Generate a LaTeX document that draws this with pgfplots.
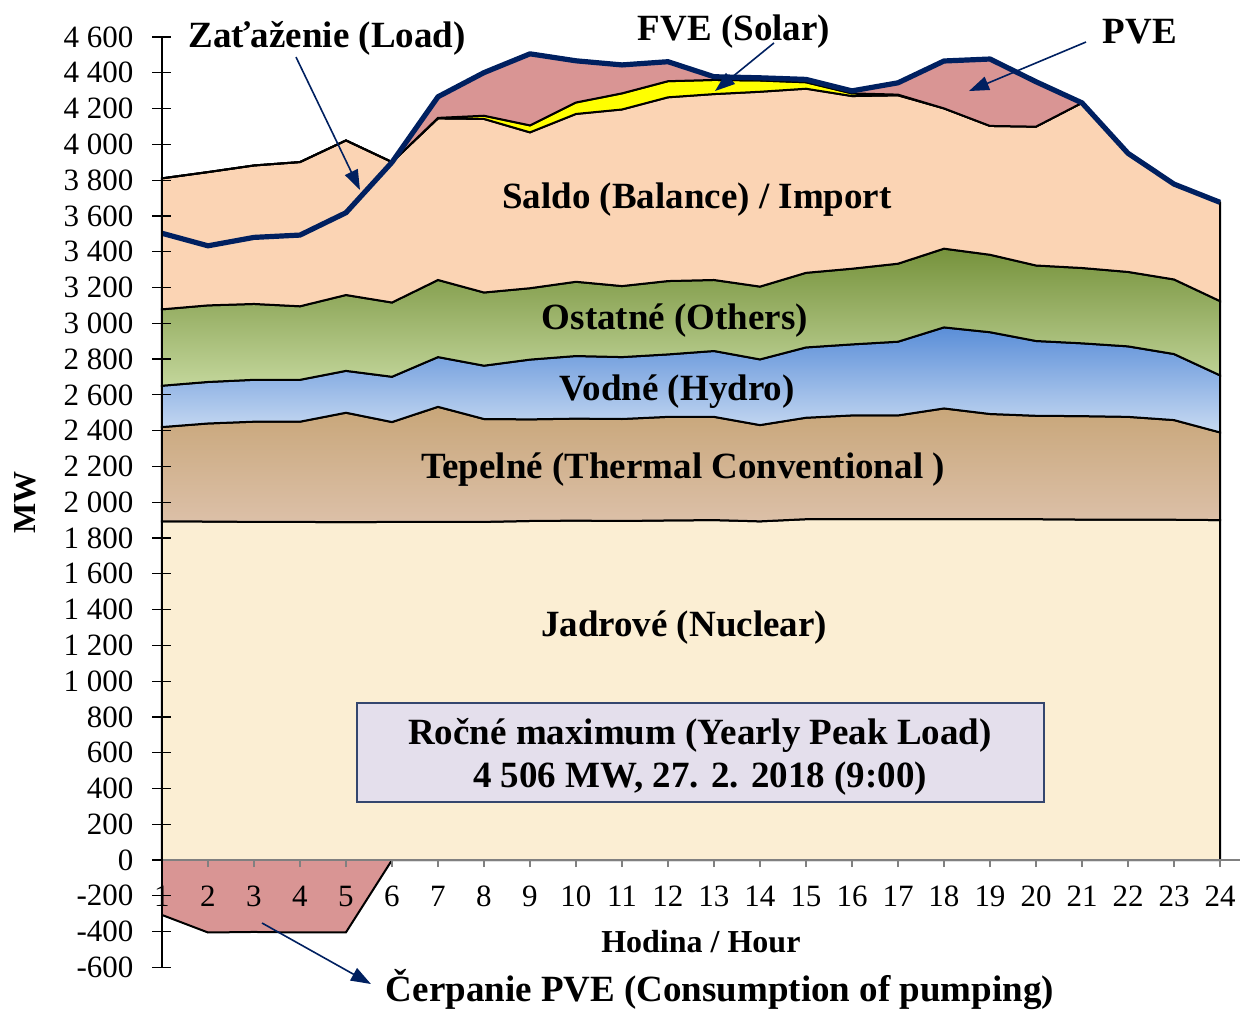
\documentclass[border=0pt]{standalone}
\usepackage{fontspec}
\setmainfont{Liberation Serif}
\usepackage{pgfplots}
\pgfplotsset{compat=1.18}
\usepackage{pgfplotstable}
\usepgfplotslibrary{fillbetween}
\usetikzlibrary{arrows.meta}

\definecolor{nucC}{HTML}{FBEED3}
\definecolor{thermT}{HTML}{C8A679}
\definecolor{thermB}{HTML}{DCC0A8}
\definecolor{hydroT}{HTML}{5A8ED8}
\definecolor{hydroB}{HTML}{C8DAF2}
\definecolor{othT}{HTML}{76923C}
\definecolor{othB}{HTML}{C3D69B}
\definecolor{saldoC}{HTML}{FBD4B4}
\definecolor{solC}{HTML}{FFFF00}
\definecolor{pveC}{HTML}{D99594}
\definecolor{loadC}{HTML}{002060}
\definecolor{boxF}{HTML}{E4DFEC}
\definecolor{boxD}{HTML}{34466E}

\pgfplotstableread{
h nuc therm hydro oth saldo sol load pvetop
1 1893 2420 2651 3078 3810 3810 3503 3810
2 1892 2440 2672 3100 3845 3845 3433 3845
3 1890 2450 2684 3108 3882 3882 3480 3882
4 1890 2450 2684 3095 3901 3901 3493 3901
5 1888 2500 2734 3158 4022 4022 3618 4022
6 1890 2448 2701 3116 3901 3901 3900 3901
7 1890 2533 2811 3242 4145 4148 4266 4266
8 1890 2465 2763 3172 4142 4160 4401 4401
9 1895 2463 2797 3196 4067 4106 4506 4506
10 1897 2467 2817 3232 4170 4234 4467 4467
11 1895 2465 2811 3208 4195 4285 4444 4444
12 1898 2477 2826 3236 4263 4353 4462 4462
13 1900 2477 2845 3242 4281 4360 4378 4378
14 1893 2431 2798 3205 4294 4357 4372 4372
15 1905 2472 2865 3282 4311 4347 4363 4363
16 1905 2485 2882 3305 4270 4285 4299 4299
17 1905 2485 2897 3333 4274 4278 4344 4344
18 1905 2524 2977 3417 4201 4201 4466 4466
19 1905 2493 2950 3383 4103 4103 4477 4477
20 1905 2483 2901 3323 4099 4099 4350 4350
21 1903 2481 2888 3309 4232 4232 4232 4232
22 1902 2477 2871 3287 3950 3950 3950 3950
23 1902 2459 2828 3245 3778 3778 3778 3778
24 1900 2390 2709 3124 3676 3676 3676 3676
}\gen

\pgfplotstableread{
h pump
1 -307
2 -405
3 -402
4 -405
5 -404
6 0
}\pump

\tikzset{
  lbl/.style={font=\fontsize{18.5}{22}\selectfont\bfseries, inner sep=0pt},
  arr/.style={draw=loadC, line width=0.8pt, -{Triangle[length=10pt,width=7pt]}},
}

\begin{document}
\begin{tikzpicture}
\begin{axis}[
  scale only axis, width=538.9pt, height=465.2pt,
  xmin=1, xmax=24.43, ymin=-600, ymax=4600,
  axis x line*=middle, axis y line*=left,
  hide obscured x ticks=false, hide obscured y ticks=false,
  x axis line style={draw=gray, line width=1.2pt},
  y axis line style={draw=black, line width=0.8pt},
  xtick={1,...,24}, ytick={-600,-400,...,4600},
  major tick length=9.5pt,
  ytick align=center, xtick align=outside,
  xtick style={draw=gray, line width=0.8pt, /pgfplots/major tick length=3.5pt},
  ytick style={draw=black, line width=0.6pt},
  /pgf/number format/1000 sep={\ },
  /pgf/number format/assume math mode=true,
  tick label style={font=\fontsize{15.5}{18}\selectfont},
  yticklabel style={xshift=-6pt},
  xlabel={Hodina / Hour}, ylabel={MW},
  xlabel style={font=\fontsize{16}{19}\selectfont\bfseries, at={(axis description cs:0.5,0.0273)}, anchor=center},
  ylabel style={font=\fontsize{16}{19}\selectfont\bfseries, at={(axis description cs:-0.1271,0.5)}, anchor=center, rotate=0},
  clip=false,
  axis on top,
]
% helper paths
\addplot[draw=none, name path=zero] coordinates {(1,0) (24,0)};
\addplot[draw=none, name path=zerosix] coordinates {(1,0) (6,0)};
\addplot[draw=none, name path=Pnuc] table[x=h,y=nuc]{\gen};
\addplot[draw=none, name path=Ptherm] table[x=h,y=therm]{\gen};
\addplot[draw=none, name path=Phydro] table[x=h,y=hydro]{\gen};
\addplot[draw=none, name path=Poth] table[x=h,y=oth]{\gen};
\addplot[draw=none, name path=Psaldo] table[x=h,y=saldo]{\gen};
\addplot[draw=none, name path=Psol] table[x=h,y=sol]{\gen};
\addplot[draw=none, name path=Ppve] table[x=h,y=pvetop]{\gen};
\addplot[draw=none, name path=Ppump] table[x=h,y=pump]{\pump};

% areas
\addplot[fill=nucC, draw=black, line width=1pt] fill between[of=zero and Pnuc];
\addplot[top color=thermT, bottom color=thermB, draw=black, line width=1pt] fill between[of=Pnuc and Ptherm];
\addplot[top color=hydroT, bottom color=hydroB, draw=black, line width=1pt] fill between[of=Ptherm and Phydro];
\addplot[top color=othT, bottom color=othB, draw=black, line width=1pt] fill between[of=Phydro and Poth];
\addplot[fill=saldoC, draw=black, line width=1pt] fill between[of=Poth and Psaldo];
\addplot[fill=solC, draw=black, line width=1pt] fill between[of=Psaldo and Psol];
\addplot[fill=pveC, draw=black, line width=1pt] fill between[of=Psol and Ppve];
\addplot[fill=pveC, draw=none] fill between[of=zerosix and Ppump];
\addplot[black, line width=1pt] table[x=h,y=pump]{\pump};

% load
\addplot[loadC, line width=2.6pt, line join=round] table[x=h,y=load]{\gen};

% labels
\node[lbl, anchor=base] at (axis cs:4.587,4544) {Zaťaženie (Load)};
\node[lbl, anchor=base] at (axis cs:13.435,4583) {FVE (Solar)};
\node[lbl, anchor=base] at (axis cs:22.26,4561) {PVE};
\node[lbl, anchor=base] at (axis cs:12.63,3639) {Saldo (Balance) / Import};
\node[lbl, anchor=base] at (axis cs:12.152,2968) {Ostatné (Others)};
\node[lbl, anchor=base] at (axis cs:12.196,2571) {Vodné (Hydro)};
\node[lbl, anchor=base] at (axis cs:12.326,2135) {Tepelné (Thermal Conventional )};
\node[lbl, anchor=base] at (axis cs:12.348,1252) {Jadrové (Nuclear)};
\node[lbl, anchor=base] at (axis cs:13.13,-788) {Čerpanie PVE (Consumption of pumping)};
\node[fill=boxF, draw=boxD, line width=1pt, minimum width=343.5pt, minimum height=49.5pt, inner sep=0pt]
  at (axis cs:12.696,601) {};
\node[lbl, align=center, font=\fontsize{18.5}{21.5}\selectfont\bfseries, yshift=-2pt]
  at (axis cs:12.696,601) {Ročné maximum (Yearly Peak Load)\\4 506 MW, 27. 2. 2018 (9:00)};

\draw[arr] (axis cs:3.913,4488) -- (axis cs:5.304,3745);
\draw[arr] (axis cs:14.304,4567) -- (axis cs:13.022,4298);
\draw[arr] (axis cs:21.087,4572) -- (axis cs:18.543,4298);
\draw[arr] (axis cs:3.174,-352) -- (axis cs:5.543,-693);

\coordinate (BL) at (axis cs:-2.5217,-832.8);
\coordinate (TR) at (axis cs:24.457,4806.9);
\end{axis}
\pgfresetboundingbox
\useasboundingbox (BL) rectangle (TR);
\end{tikzpicture}
\end{document}
